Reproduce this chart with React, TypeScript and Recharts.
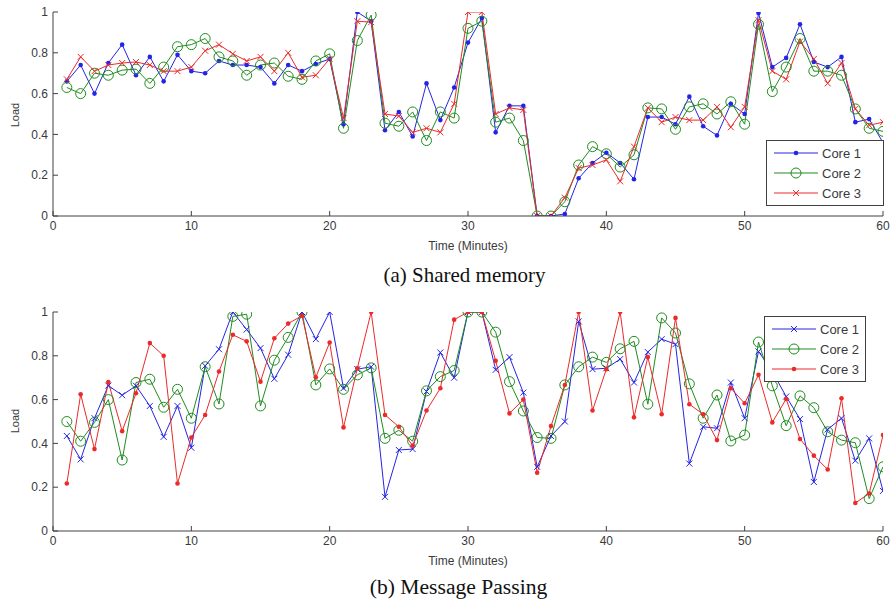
import React from "react";
import { LineChart, Line, XAxis, YAxis } from "recharts";

// minutes 1..60 on the x axis
const minutes = Array.from({ length: 60 }, (_, i) => i + 1);
const xTicks = [0, 10, 20, 30, 40, 50, 60];
const yTicks = [0, 0.2, 0.4, 0.6, 0.8, 1];
const coreNames = ["Core 1", "Core 2", "Core 3"];
const coreColors = ["#2424e6", "#1f8c1f", "#ec2a2a"];

// (a) shared memory load per core
const sharedCore1 = [
  0.66, 0.74, 0.6, 0.75, 0.84, 0.69, 0.78, 0.66, 0.79, 0.71,
  0.7, 0.76, 0.74, 0.74, 0.73, 0.65, 0.74, 0.71, 0.745, 0.77,
  0.45, 1.0, 0.955, 0.42, 0.51, 0.39, 0.65, 0.47, 0.63, 0.85,
  0.97, 0.41, 0.54, 0.54, 0, 0, 0.01, 0.185, 0.26, 0.31,
  0.26, 0.18, 0.485, 0.485, 0.45, 0.585, 0.44, 0.395, 0.55, 0.5,
  0.995, 0.73, 0.775, 0.94, 0.755, 0.73, 0.78, 0.46, 0.475, 0.36,
];
const sharedCore2 = [
  0.63, 0.6, 0.7, 0.69, 0.715, 0.72, 0.65, 0.73, 0.83, 0.84,
  0.87, 0.78, 0.76, 0.69, 0.74, 0.75, 0.685, 0.67, 0.76, 0.795,
  0.43, 0.86, 0.985, 0.455, 0.44, 0.51, 0.37, 0.51, 0.48, 0.92,
  0.955, 0.46, 0.48, 0.37, 0, 0, 0.07, 0.25, 0.34, 0.305,
  0.24, 0.3, 0.53, 0.525, 0.425, 0.535, 0.55, 0.5, 0.56, 0.45,
  0.94, 0.61, 0.73, 0.87, 0.71, 0.71, 0.69, 0.525, 0.43, 0.415,
];
const sharedCore3 = [
  0.67, 0.78, 0.71, 0.74, 0.75, 0.755, 0.74, 0.71, 0.71, 0.73,
  0.81, 0.84, 0.795, 0.76, 0.78, 0.71, 0.8, 0.68, 0.69, 0.77,
  0.48, 0.955, 0.95, 0.5, 0.49, 0.41, 0.43, 0.41, 0.55, 1.0,
  1.0, 0.5, 0.53, 0.52, 0, 0, 0.09, 0.235, 0.25, 0.275,
  0.17, 0.34, 0.53, 0.46, 0.485, 0.47, 0.47, 0.535, 0.435, 0.535,
  0.96, 0.71, 0.67, 0.855, 0.77, 0.65, 0.75, 0.525, 0.445, 0.46,
];

// (b) message passing load per core
const mpCore1 = [
  0.434, 0.327, 0.515, 0.664, 0.62, 0.663, 0.571, 0.43, 0.571, 0.38,
  0.754, 0.83, 1.0, 0.92, 0.835, 0.695, 0.805, 1.0, 0.876, 1.0,
  0.652, 0.739, 0.75, 0.156, 0.37, 0.374, 0.637, 0.815, 0.7, 1.0,
  1.0, 0.736, 0.794, 0.632, 0.293, 0.434, 0.5, 0.957, 0.739, 0.743,
  0.785, 0.678, 0.817, 0.876, 0.853, 0.308, 0.476, 0.469, 0.678, 0.515,
  0.82, 0.728, 0.614, 0.511, 0.224, 0.464, 0.515, 0.321, 0.423, 0.183,
];
const mpCore2 = [
  0.5, 0.41, 0.496, 0.6, 0.324, 0.678, 0.693, 0.565, 0.647, 0.515,
  0.75, 0.58, 0.98, 0.99, 0.571, 0.78, 0.884, 1.0, 0.667, 0.74,
  0.647, 0.713, 0.745, 0.423, 0.46, 0.41, 0.64, 0.705, 0.733, 1.0,
  1.0, 0.908, 0.682, 0.548, 0.427, 0.423, 0.667, 0.75, 0.794, 0.77,
  0.832, 0.866, 0.579, 0.973, 0.904, 0.672, 0.515, 0.621, 0.411, 0.438,
  0.863, 0.663, 0.481, 0.617, 0.563, 0.453, 0.415, 0.403, 0.148, 0.293,
];
const mpCore3 = [
  0.217, 0.624, 0.374, 0.68, 0.456, 0.629, 0.858, 0.8, 0.217, 0.427,
  0.53, 0.728, 0.896, 0.866, 0.682, 0.88, 0.947, 0.983, 0.702, 0.861,
  0.473, 0.743, 1.0, 0.53, 0.476, 0.39, 0.55, 0.652, 0.965, 1.0,
  1.0, 0.777, 0.537, 0.6, 0.266, 0.479, 0.667, 1.0, 0.55, 0.739,
  1.0, 0.519, 0.794, 0.533, 0.973, 0.579, 0.533, 0.415, 0.652, 0.583,
  0.713, 0.496, 0.603, 0.42, 0.344, 0.281, 0.606, 0.128, 0.171, 0.438,
];

const sharedData = minutes.map((t, i) => ({
  t,
  c1: sharedCore1[i],
  c2: sharedCore2[i],
  c3: sharedCore3[i],
}));
const mpData = minutes.map((t, i) => ({
  t,
  c1: mpCore1[i],
  c2: mpCore2[i],
  c3: mpCore3[i],
}));

type Mark = "dot" | "ring" | "cross";

function drawMark(kind: Mark, color: string, cx: number, cy: number, key?: any) {
  if (kind === "dot") return <circle key={key} cx={cx} cy={cy} r={2.3} fill={color} />;
  if (kind === "ring")
    return <circle key={key} cx={cx} cy={cy} r={5} fill="none" stroke={color} strokeWidth={1} />;
  const s = 3;
  return (
    <path
      key={key}
      d={`M${cx - s},${cy - s}L${cx + s},${cy + s}M${cx - s},${cy + s}L${cx + s},${cy - s}`}
      stroke={color}
      strokeWidth={1}
      fill="none"
    />
  );
}

const dotFor = (kind: Mark, color: string) => (p: any) => {
  if (p.cx == null || p.cy == null) return <g key={p.index} />;
  return drawMark(kind, color, p.cx, p.cy, p.index);
};

const axisColor = "#404040";
const tickStyle = { fontFamily: "Arial, 'Liberation Sans', sans-serif", fontSize: 12, fill: "#3a3a3a" };

function LegendBox({ left, top, width, marks }: { left: number; top: number; width: number; marks: Mark[] }) {
  return (
    <div
      style={{
        position: "absolute",
        left,
        top,
        width,
        height: 66,
        border: `1px solid ${axisColor}`,
        background: "#fff",
        boxSizing: "border-box",
      }}
    >
      <svg width={width - 2} height={64} style={{ display: "block" }}>
        {coreNames.map((name, i) => {
          const y = 12 + i * 20;
          return (
            <g key={name}>
              <line x1={7} x2={51} y1={y} y2={y} stroke={coreColors[i]} strokeWidth={1} />
              {drawMark(marks[i], coreColors[i], 29, y)}
              <text x={55} y={y} dy="0.36em" style={{ ...tickStyle, fontSize: 13 }}>
                {name}
              </text>
            </g>
          );
        })}
      </svg>
    </div>
  );
}

function Panel({ data, marks, height }: { data: any[]; marks: Mark[]; height: number }) {
  return (
    <LineChart width={893} height={height} data={data} margin={{ top: 12, right: 10, bottom: 10, left: 13 }}>
      <XAxis
        xAxisId="b"
        dataKey="t"
        type="number"
        domain={[0, 60]}
        ticks={xTicks}
        allowDataOverflow
        height={34}
        tickSize={-5}
        tickMargin={10}
        tick={tickStyle}
        stroke={axisColor}
        label={{ value: "Time (Minutes)", position: "insideBottom", offset: 0, style: { ...tickStyle, fontSize: 12 } }}
      />
      <XAxis
        xAxisId="t"
        orientation="top"
        dataKey="t"
        type="number"
        domain={[0, 60]}
        ticks={xTicks}
        allowDataOverflow
        height={0}
        tickSize={-5}
        tickFormatter={() => ""}
        stroke={axisColor}
      />
      <YAxis
        yAxisId="l"
        type="number"
        domain={[0, 1]}
        ticks={yTicks}
        allowDataOverflow
        width={40}
        tickSize={-5}
        tickMargin={10}
        tick={tickStyle}
        tickFormatter={(v: number) => String(Math.round(v * 10) / 10)}
        stroke={axisColor}
      />
      <YAxis
        yAxisId="r"
        orientation="right"
        type="number"
        domain={[0, 1]}
        ticks={yTicks}
        allowDataOverflow
        width={0}
        tickSize={-5}
        tickFormatter={() => ""}
        stroke={axisColor}
      />
      {["c1", "c2", "c3"].map((key, i) => (
        <Line
          key={key}
          xAxisId="b"
          yAxisId="l"
          dataKey={key}
          name={coreNames[i]}
          type="linear"
          stroke={coreColors[i]}
          strokeWidth={1}
          dot={dotFor(marks[i], coreColors[i])}
          activeDot={false}
          isAnimationActive={false}
        />
      ))}
    </LineChart>
  );
}

const captionStyle: React.CSSProperties = {
  position: "absolute",
  left: 0,
  width: 893,
  textAlign: "center",
  fontFamily: "'Liberation Serif', 'Times New Roman', serif",
  fontSize: 21,
  color: "#111",
  lineHeight: "24px",
};

const loadStyle: React.CSSProperties = {
  position: "absolute",
  fontFamily: "Arial, 'Liberation Sans', sans-serif",
  fontSize: 11,
  color: "#3a3a3a",
  transform: "rotate(-90deg)",
  transformOrigin: "center",
  width: 40,
  textAlign: "center",
  lineHeight: "12px",
};

export default function App() {
  return (
    <div style={{ position: "absolute", left: 0, top: 0, width: 893, height: 601, background: "#fff", overflow: "hidden" }}>
      <div style={{ position: "absolute", left: 0, top: 0 }}>
        <Panel data={sharedData} marks={["dot", "ring", "cross"]} height={260} />
      </div>
      <LegendBox left={766} top={140} width={118} marks={["dot", "ring", "cross"]} />
      <div style={{ ...loadStyle, left: -5, top: 109 }}>Load</div>
      <div style={{ ...captionStyle, left: 18, top: 263 }}>(a) Shared memory</div>

      <div style={{ position: "absolute", left: 0, top: 300 }}>
        <Panel data={mpData} marks={["cross", "ring", "dot"]} height={275} />
      </div>
      <LegendBox left={764} top={316} width={102} marks={["cross", "ring", "dot"]} />
      <div style={{ ...loadStyle, left: -5, top: 415 }}>Load</div>
      <div style={{ ...captionStyle, left: 12, top: 575, fontSize: 21.6 }}>(b) Message Passing</div>
    </div>
  );
}
